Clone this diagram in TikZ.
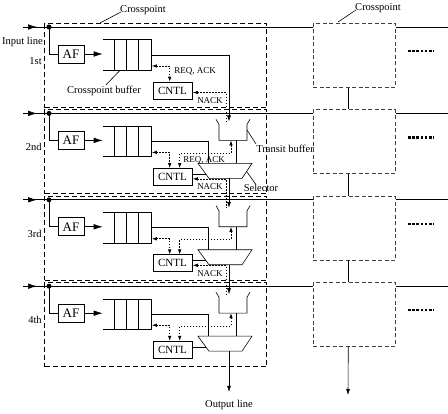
\documentclass[tikz,border=0pt]{standalone}
\usepackage{fontspec}
\setmainfont{Liberation Serif}
\usetikzlibrary{arrows.meta,calc}
\begin{document}
\begin{tikzpicture}[x=1pt,y=-1pt,line width=0.6pt,
  cpbox/.style={draw,line width=1.1pt,dash pattern=on 5pt off 3pt,inner sep=0pt},
  rbox/.style={draw,line width=0.6pt,dash pattern=on 4pt off 2.5pt,black!75,inner sep=0pt},
  afbox/.style={draw,minimum width=26pt,minimum height=18pt,inner sep=0pt,font=\fontsize{13}{13}\selectfont},
  cbox/.style={draw,minimum width=39pt,minimum height=17pt,inner sep=0pt,font=\fontsize{11}{11}\selectfont},
  dotn/.style={circle,fill,inner sep=0pt,minimum size=5pt},
  sig/.style={line width=0.7pt,dash pattern=on 1.5pt off 1.5pt},
  bigarr/.style={-{Latex[length=9pt,width=5.5pt]}},
  medarr/.style={-{Latex[length=6pt,width=4pt]}},
  dblarr/.style={{Latex[length=5pt,width=3.5pt]}-{Latex[length=5pt,width=3.5pt]}},
  lftarr/.style={{Latex[length=5pt,width=3.5pt]}-},
  lbl/.style={font=\fontsize{10.5}{10.5}\selectfont,inner sep=0pt},
  sm/.style={font=\fontsize{9}{9}\selectfont,inner sep=0pt},
]
\useasboundingbox (0,0) rectangle (448,414);
\foreach \i/\b/\nb/\lab in {1/27/113.4/1st,2/113.4/199.8/2nd,3/199.8/286.2/3rd,4/286.2/0/4th}{
  \pgfmathsetmacro{\c}{\b+28}
  \pgfmathsetmacro{\nc}{\nb+28}
  \node[cpbox,minimum width=222pt,minimum height=84pt,anchor=north west] (cp\i) at (44,\b-4) {};
  \node[rbox,minimum width=82pt,minimum height=64pt,anchor=north west] (rb\i) at (313,\b-4) {};
  \coordinate (in\i) at (23,\b);
  \coordinate (ex\i) at (448,\b);
  \draw (in\i) -- (in\i -| rb\i.west);
  \draw (ex\i -| rb\i.east) -- (ex\i);
  \draw[bigarr] (in\i) -- (37,\b);
  \node[dotn] (dot\i) at (49,\b) {};
  \node[afbox] (af\i) at (71,\c-1) {AF};
  \draw (dot\i.center) |- (af\i.west);
  \node[inner sep=0pt,minimum width=48pt,minimum height=30pt] (buf\i) at (127,\c) {};
  \draw (buf\i.north west) -- (buf\i.north east) -- (buf\i.south east) -- (buf\i.south west);
  \foreach \dx in {12,24,36} \draw ($(buf\i.north west)+(\dx,0)$) -- ($(buf\i.south west)+(\dx,0)$);
  \draw[bigarr] (af\i.east) -- (buf\i.west |- af\i.east);
  \node[cbox] (cn\i) at (172.5,\c+35.5) {CNTL};
  \draw[sig,dblarr] ($(buf\i.east)+(0.5,11)$) -| ($(cn\i.north west)+(17,0)$);
  \node[lbl,anchor=east] (rl\i) at (42,\c+6) {\lab};
  \draw[line width=2.5pt,dash pattern=on 2.6pt off 1.6pt] (408,\b+24) -- (434,\b+24);
  \ifnum\i>1
    \draw (216,\c-22) -- (219,\c-17) -- (219,\c-1) -- (247,\c-1) -- (247,\c-17) -- (250,\c-22);
    \draw (198,\c+22) -- (252,\c+22) -- (242,\c+37) -- (209,\c+37) -- cycle;
    \draw (buf\i.east) -- (208,\c) -- (208,\c+22);
    \draw (236,\c-1) -- (236,\c+22);
    \draw[sig,dblarr] (231,\c-1) -- (231,\c+12) -| ($(cn\i.north west)+(27,0)$);
    \draw ($(cn\i.east)+(0,-2.5)$) -- (206.2,\c+33);
  \fi
  \ifnum\i=1
    \draw[medarr] (buf\i.east) -| (229,\nc-20);
  \fi
  \ifnum\i<4
    \ifnum\i>1
      \draw[medarr] (229,\c+37) -- (229,\nc-20);
    \fi
    \draw[sig,lftarr] ($(cn\i.east)+(0.5,2)$) -- (226,\c+37.5) -- (226,\nc-20);
    \node[sm] (nk\i) at (210,\c+45.5) {NACK};
  \fi
}
\coordinate (olend) at (229,392);
\draw[medarr] (229,351.2) -- (olend);
\node[lbl] (ol) at (229,405) {Output line};
\node[sm,anchor=west] (rq1) at (174,71) {REQ, ACK};
\node[sm,anchor=west] (rq2) at (183,160) {REQ, ACK};
\foreach \i/\j in {1/2,2/3,3/4}
  \draw ($(rb\i.south)+(-6,0)$) -- ($(rb\j.north)+(-6,0)$);
\coordinate (rout) at (348,395);
\draw[medarr] ($(rb4.south)+(-6,0)$) -- (rout);
\node[lbl] (cpl) at (143,10) {Crosspoint};
\draw (100,23) -- ($(cpl.west)+(1,2)$);
\node[lbl] (cpr) at (378,8) {Crosspoint};
\draw (338,22) -- ($(cpr.west)+(1,2)$);
\node[lbl,anchor=east] (inl) at (43,42) {Input line};
\node[lbl] (cbl) at (104,91) {Crosspoint buffer};
\draw ($(cbl.north)+(2,-1)$) -- ($(buf1.south)+(-7,0)$);
\node[lbl,anchor=west] (tbl) at (256,149) {Transit buffer};
\draw (247,130) -- ($(tbl.north west)+(0,-1)$);
\node[lbl] (sell) at (261,188) {Selector};
\draw (247,172) -- ($(sell.north west)+(12,0)$);
\end{tikzpicture}
\end{document}
